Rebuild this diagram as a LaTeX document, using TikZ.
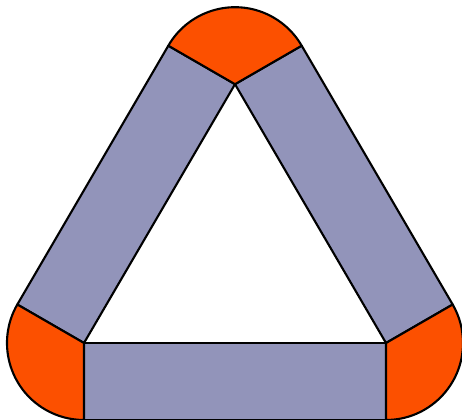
\documentclass[tikz,border=0pt]{standalone}
\usepackage{tikz}
\usetikzlibrary{calc}
\definecolor{cBar}{HTML}{9294BA}
\definecolor{cJoint}{HTML}{FC5000}
\tikzset{
  bar/.style={fill=cBar,draw=black,line width=1.5pt,line join=round},
  joint/.style={fill=cJoint,draw=black,line width=1.5pt,line join=round},
}
\begin{document}
\begin{tikzpicture}
  \useasboundingbox (0,0) rectangle (11.55,10.475);
  \def\w{1.925}
  % inner triangle
  \coordinate (bl) at (2.1,1.9);
  \coordinate (br) at (9.65,1.9);
  \coordinate (tp) at (5.875,8.37);
  % bars
  \draw[bar] (bl) -- (br) -- ($(br)+(0,-\w)$) -- ($(bl)+(0,-\w)$) -- cycle;
  \draw[bar] (bl) -- (tp) -- ($(tp)+(150:\w)$) -- ($(bl)+(150:\w)$) -- cycle;
  \draw[bar] (tp) -- (br) -- ($(br)+(30:\w)$) -- ($(tp)+(30:\w)$) -- cycle;
  % rounded joints
  \draw[joint] (tp) -- ++(150:\w) arc[start angle=150,end angle=30,radius=\w] -- cycle;
  \draw[joint] (bl) -- ++(150:\w) arc[start angle=150,end angle=270,radius=\w] -- cycle;
  \draw[joint] (br) -- ++(270:\w) arc[start angle=270,end angle=390,radius=\w] -- cycle;
\end{tikzpicture}
\end{document}
